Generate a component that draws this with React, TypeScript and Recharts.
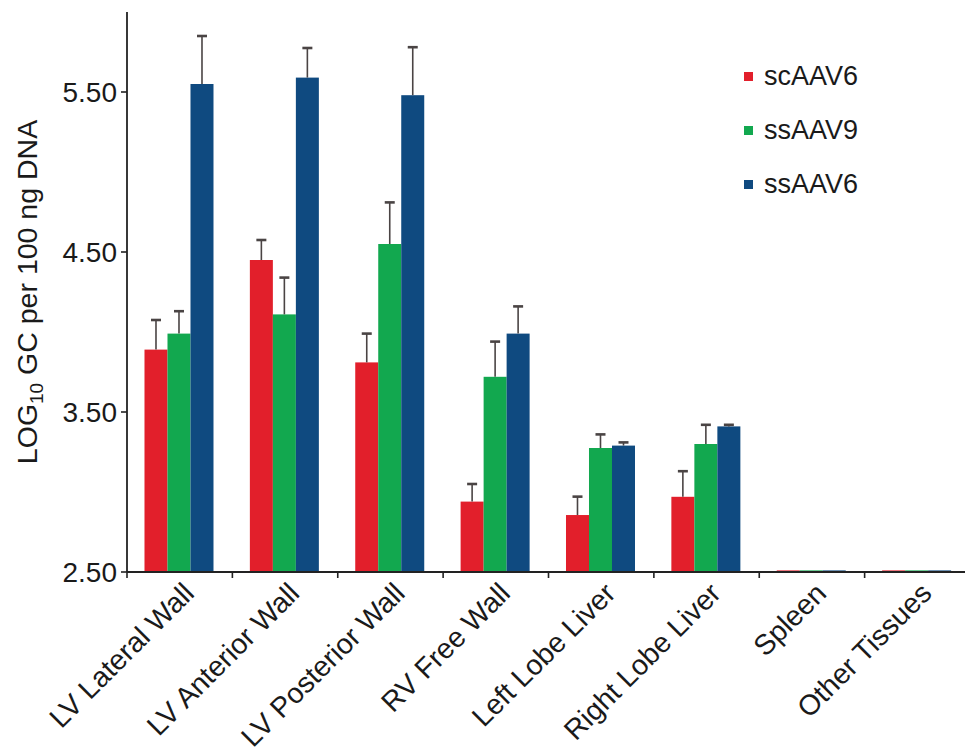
import React from "react";
import { BarChart, Bar, XAxis, YAxis, Legend } from "recharts";

const categories = [
  "LV Lateral Wall",
  "LV Anterior Wall",
  "LV Posterior Wall",
  "RV Free Wall",
  "Left Lobe Liver",
  "Right Lobe Liver",
  "Spleen",
  "Other Tissues",
];
const scAAV6 = [3.89, 4.45, 3.81, 2.94, 2.856, 2.97, 2.51, 2.51];
const scAAV6Err = [0.185, 0.125, 0.18, 0.11, 0.115, 0.16, 0, 0];
const ssAAV9 = [3.99, 4.11, 4.55, 3.72, 3.275, 3.3, 2.51, 2.51];
const ssAAV9Err = [0.14, 0.23, 0.26, 0.22, 0.085, 0.12, 0, 0];
const ssAAV6 = [5.55, 5.59, 5.48, 3.99, 3.29, 3.41, 2.51, 2.51];
const ssAAV6Err = [0.3, 0.185, 0.3, 0.17, 0.02, 0.01, 0, 0];
const yTicks = [2.5, 3.5, 4.5, 5.5];
const yDomain = [2.5, 6.0];

const series = [
  { key: "scAAV6", err: "scAAV6Err", color: "#E21F2B" },
  { key: "ssAAV9", err: "ssAAV9Err", color: "#12A84F" },
  { key: "ssAAV6", err: "ssAAV6Err", color: "#0F4A80" },
];

const data = categories.map((name, i) => ({
  name,
  scAAV6: scAAV6[i],
  scAAV6Err: scAAV6Err[i],
  ssAAV9: ssAAV9[i],
  ssAAV9Err: ssAAV9Err[i],
  ssAAV6: ssAAV6[i],
  ssAAV6Err: ssAAV6Err[i],
}));

const FONT = "'Liberation Sans', Arial, Helvetica, sans-serif";

const makeShape = (valKey: string, errKey: string) => (props: any) => {
  const { x, y, width, height, fill, payload } = props;
  const v = payload[valKey];
  const e = payload[errKey];
  const pxPerUnit = v - yDomain[0] > 0 ? height / (v - yDomain[0]) : 0;
  const cx = x + width / 2;
  const top = y - e * pxPerUnit;
  return (
    <g>
      <rect x={x} y={y} width={width} height={Math.max(height, 0)} fill={fill} />
      {e > 0 ? (
        <g stroke="#4a4444">
          <line x1={cx} y1={y} x2={cx} y2={top} strokeWidth={1.6} />
          <line x1={cx - 5} y1={top} x2={cx + 5} y2={top} strokeWidth={2.6} />
        </g>
      ) : null}
    </g>
  );
};

const XTick = (props: any) => {
  const { x, y, payload } = props;
  const off = payload.offset || 0;
  return (
    <g>
      <line x1={x - off} y1={y} x2={x - off} y2={y + 6} stroke="#222" strokeWidth={1.6} />
      <text
        x={0}
        y={0}
        transform={`translate(${x + 16},${y + 23}) rotate(-45)`}
        textAnchor="end"
        fontSize={28.5}
        fontFamily={FONT}
        fill="#1a1a1a"
      >
        {payload.value}
      </text>
    </g>
  );
};

const LegendContent = () => (
  <div style={{ fontFamily: FONT, fontSize: 27, color: "#1a1a1a" }}>
    {series.map((s) => (
      <div key={s.key} style={{ display: "flex", alignItems: "center", height: 54 }}>
        <span style={{ width: 9, height: 9, background: s.color, display: "inline-block", marginRight: 11 }} />
        <span>{s.key}</span>
      </div>
    ))}
  </div>
);

const YLabel = () => (
  <text
    transform="translate(37,292) rotate(-90)"
    textAnchor="middle"
    fontFamily={FONT}
    fontSize={28.5}
    fill="#1a1a1a"
  >
    LOG
    <tspan fontSize={19} dy={6}>10</tspan>
    <tspan dy={-6}> GC per 100 ng DNA</tspan>
  </text>
);

export default function App() {
  return (
    <div style={{ position: "absolute", left: 0, top: 0, width: 965, height: 752, overflow: "hidden", background: "#fff" }}>
      <BarChart
        width={970}
        height={752}
        data={data}
        margin={{ top: 12, right: 0, bottom: 0, left: 0 }}
        barCategoryGap="16.6%"
        barGap={0}
      >
        <XAxis
          dataKey="name"
          height={180}
          tickLine={false}
          tickSize={0}
          tickMargin={0}
          interval={0}
          axisLine={{ stroke: "#222", strokeWidth: 1.8 }}
          tick={<XTick />}
        />
        <YAxis
          width={127}
          domain={yDomain}
          ticks={yTicks}
          allowDataOverflow
          tickFormatter={(v: number) => v.toFixed(2)}
          tickSize={6}
          tickMargin={4}
          tickLine={{ stroke: "#222", strokeWidth: 1.6 }}
          axisLine={{ stroke: "#222", strokeWidth: 1.8 }}
          tick={{ fontSize: 28, fontFamily: FONT, fill: "#1a1a1a" }}
          label={<YLabel />}
        />
        <Legend
          content={<LegendContent />}
          layout="vertical"
          align="center"
          verticalAlign="middle"
          wrapperStyle={{ position: "absolute", left: 744, top: 49, width: 200, height: 170 }}
        />
        {series.map((s) => (
          <Bar
            key={s.key}
            dataKey={s.key}
            fill={s.color}
            isAnimationActive={false}
            shape={makeShape(s.key, s.err)}
          />
        ))}
      </BarChart>
    </div>
  );
}
